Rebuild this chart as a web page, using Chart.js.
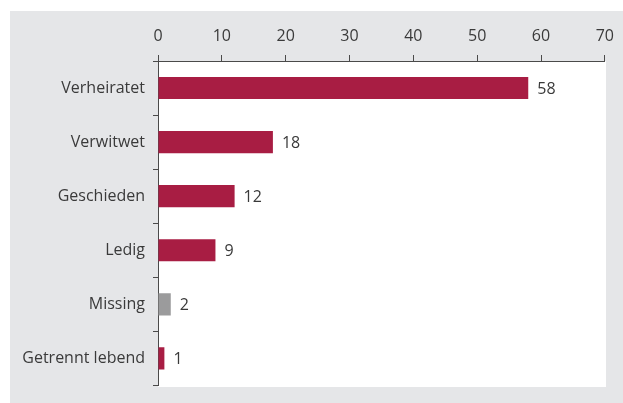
<!DOCTYPE html>
<html>
<head>
<meta charset="utf-8">
<script src="https://cdn.jsdelivr.net/npm/chart.js@4/dist/chart.umd.min.js"></script>
<style>
  html, body { margin: 0; padding: 0; background: #fff; }
  #wrap { position: relative; width: 623px; height: 403px; overflow: hidden; }
  #panel { position: absolute; left: 10px; top: 11px; width: 613px; height: 392px; background: #e5e6e8; }
  #plotbg { position: absolute; left: 158px; top: 61px; width: 448px; height: 326px; background: #fff; }
  #chart { position: absolute; left: 0; top: 0; }
</style>
</head>
<body>
<div id="wrap">
  <div id="panel"></div>
  <div id="plotbg"></div>
  <canvas id="chart" width="623" height="403"></canvas>
</div>
<script>
// Familienstand
const categories = ['Verheiratet', 'Verwitwet', 'Geschieden', 'Ledig', 'Missing', 'Getrennt lebend'];
const values = [58, 18, 12, 9, 2, 1];
const barColors = ['#a81d43', '#a81d43', '#a81d43', '#a81d43', '#9b9b9c', '#a81d43'];
const xTicks = [0, 10, 20, 30, 40, 50, 60, 70];

const FONT = 'Open Sans';
const TEXT = '#3a3a3a';
const AXIS = '#4a4a4a';

// value labels to the right of each bar
const valueLabels = {
    id: 'valueLabels',
    afterDatasetsDraw(chart) {
        const ctx = chart.ctx;
        const meta = chart.getDatasetMeta(0);
        ctx.save();
        ctx.font = '16px "' + FONT + '"';
        ctx.fillStyle = TEXT;
        ctx.textBaseline = 'middle';
        ctx.textAlign = 'left';
        meta.data.forEach((bar, i) => {
            ctx.fillText(String(values[i]), bar.x + 9, bar.y + 1);
        });
        ctx.restore();
    }
};

new Chart(document.getElementById('chart'), {
    type: 'bar',
    data: {
        labels: categories,
        datasets: [{
            data: values,
            backgroundColor: barColors,
            borderWidth: 0,
            barPercentage: 0.41,
            categoryPercentage: 1
        }]
    },
    options: {
        indexAxis: 'y',
        responsive: false,
        animation: false,
        layout: { padding: { left: 10, top: 11, right: 17, bottom: 16 } },
        plugins: {
            legend: { display: false },
            tooltip: { enabled: false }
        },
        scales: {
            x: {
                position: 'top',
                min: 0,
                max: 70,
                afterBuildTicks(scale) {
                    scale.ticks = xTicks.map(v => ({ value: v }));
                },
                afterFit(scale) { scale.height = 61 - 11; },
                grid: { drawOnChartArea: false, tickLength: 6, color: AXIS, lineWidth: 1 },
                border: { display: true, color: AXIS, width: 1 },
                ticks: { color: TEXT, font: { family: FONT, size: 16 }, padding: 9 }
            },
            y: {
                afterFit(scale) { scale.width = 158 - 10; },
                grid: { drawOnChartArea: false, tickLength: 5, color: AXIS, lineWidth: 1, offset: true },
                border: { display: true, color: AXIS, width: 1 },
                ticks: { color: TEXT, font: { family: FONT, size: 16 }, padding: 8 }
            }
        }
    },
    plugins: [valueLabels]
});
</script>
</body>
</html>
